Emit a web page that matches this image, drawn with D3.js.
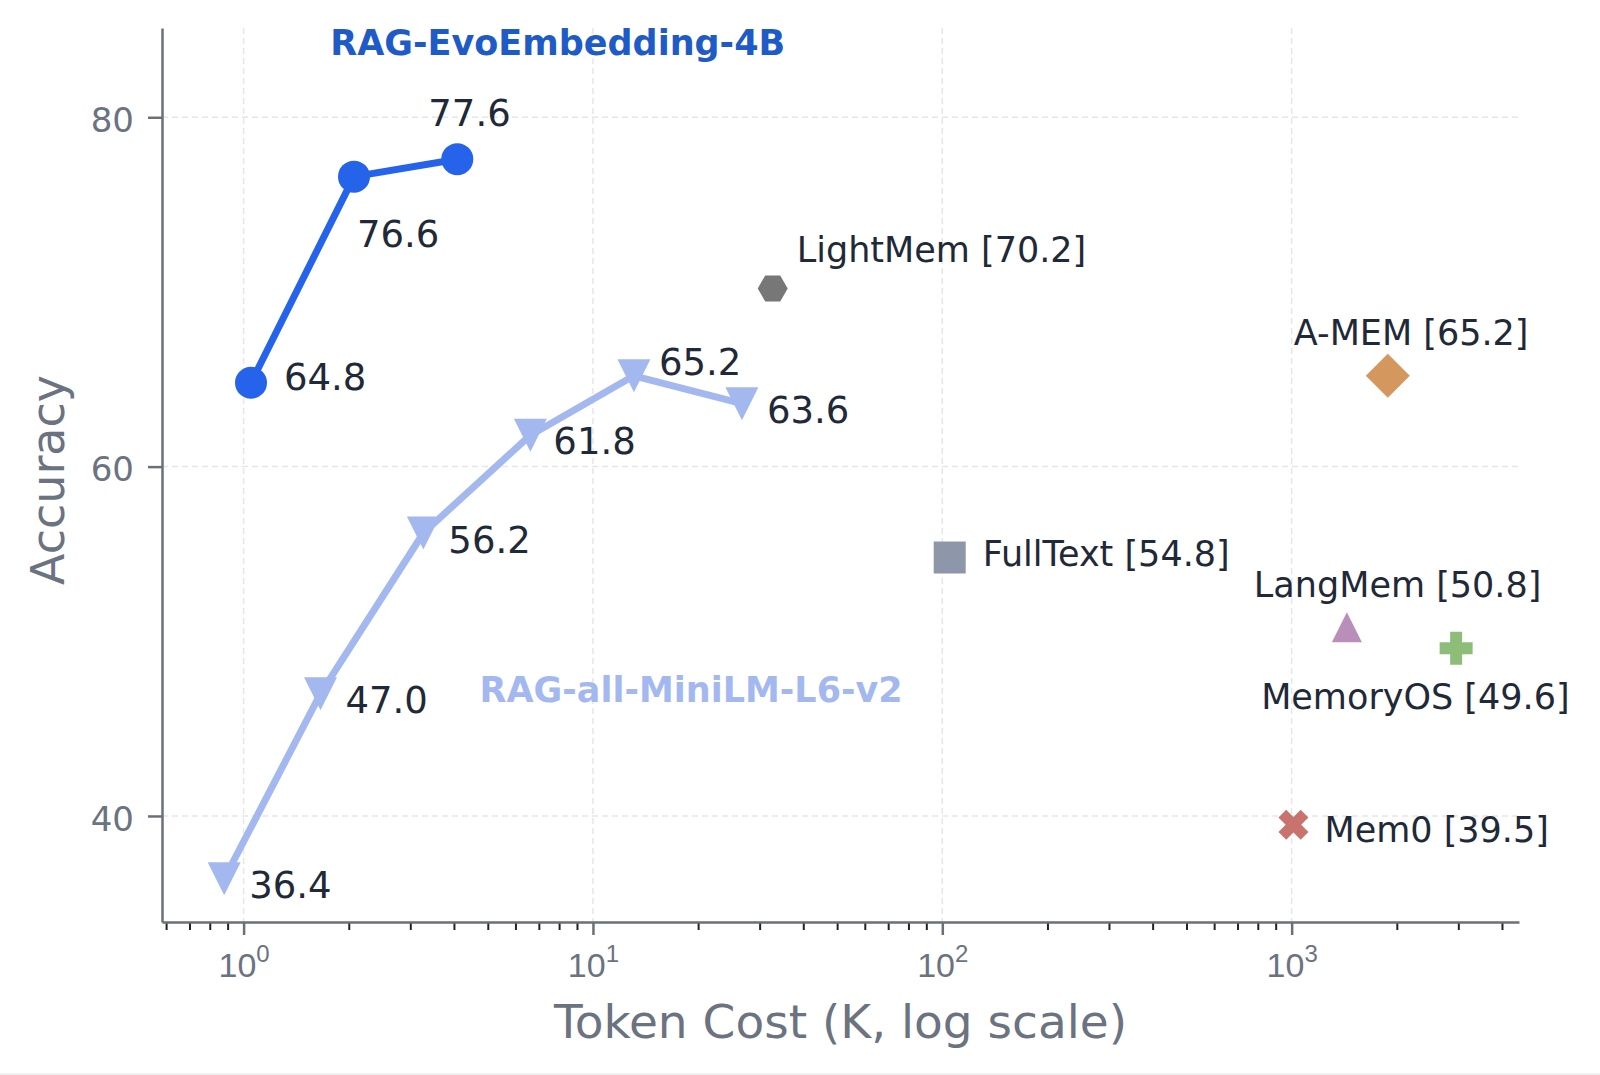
<!DOCTYPE html>
<html>
<head>
<meta charset="utf-8">
<script src="https://cdn.jsdelivr.net/npm/d3@7"></script>
<style>
  html, body { margin: 0; padding: 0; background: #fff; }
  svg { display: block; font-family: "DejaVu Sans", sans-serif; }
</style>
</head>
<body>
<script>
// --- data ---
const evoCost = [1.05, 2.07, 4.09]
const evoAcc = [64.8, 76.6, 77.6]

const miniCost = [0.88, 1.66, 3.27, 6.62, 13.1, 26.7]
const miniAcc = [36.4, 47.0, 56.2, 61.8, 65.2, 63.6]

const baseNames = ['LightMem', 'A-MEM', 'FullText', 'LangMem', 'MemoryOS', 'Mem0']
const baseCost = [32.7, 1885, 105, 1439, 2957, 1012]
const baseAcc = [70.2, 65.2, 54.8, 50.8, 49.6, 39.5]

const xMajor = [1, 10, 100, 1000]
const yTicks = [40, 60, 80]

// --- layout / style ---
const width = 1600
const height = 1075
const margin = { top: 28, right: 81, bottom: 153, left: 162 }
const innerW = width - margin.left - margin.right
const innerH = height - margin.top - margin.bottom

const evoColor = '#2563eb'
const miniColor = '#a4b8f0'
const textDark = '#1f2937'
const axisGray = '#6b7078'

// label offsets in px from their point (dx, dy to baseline start)
const evoOffsets = [[33, 7], [3, 70], [-29, -33]]
const miniOffsets = [[25, 19], [25, 19], [25, 20], [23, 19], [25, -1], [25, 19]]
const baseStyle = [
  { shape: 'hex', color: '#777777', dx: 24, dy: -26 },
  { shape: 'diamond', color: '#d4975e', dx: -94, dy: -31 },
  { shape: 'square', color: '#8d97a9', dx: 33, dy: 9 },
  { shape: 'tri', color: '#b98fb9', dx: -93, dy: -30 },
  { shape: 'plus', color: '#8dbd78', dx: -195, dy: 61 },
  { shape: 'x', color: '#c9736f', dx: 31, dy: 17 }
]

const xScale = d3.scaleLog()
  .domain([0.584, 4475])
  .range([0, innerW])

const yScale = d3.scaleLinear()
  .domain([33.93, 85.11])
  .range([innerH, 0])

const svg = d3.select('body').append('svg')
  .attr('width', width)
  .attr('height', height)

svg.append('rect')
  .attr('x', 0).attr('y', height - 2)
  .attr('width', width).attr('height', 2)
  .attr('fill', '#f0f0f0')

const g = svg.append('g')
  .attr('transform', `translate(${margin.left}, ${margin.top})`)

// grid
g.append('g').selectAll('line')
  .data(xMajor)
  .join('line')
  .attr('x1', d => xScale(d)).attr('x2', d => xScale(d))
  .attr('y1', 0).attr('y2', innerH)
  .attr('stroke', '#e6e6e6')
  .attr('stroke-width', 1.5)
  .attr('stroke-dasharray', '6,4')

g.append('g').selectAll('line')
  .data(yTicks)
  .join('line')
  .attr('x1', 0).attr('x2', innerW)
  .attr('y1', d => yScale(d)).attr('y2', d => yScale(d))
  .attr('stroke', '#e6e6e6')
  .attr('stroke-width', 1.5)
  .attr('stroke-dasharray', '6,4')

// minor x ticks
const minors = []
for (let e = -1; e <= 3; e++) {
  for (let m = 2; m <= 9; m++) {
    const v = m * Math.pow(10, e)
    if (v >= xScale.domain()[0] && v <= xScale.domain()[1]) minors.push(v)
  }
}

g.append('g')
  .attr('transform', `translate(0, ${innerH})`)
  .call(d3.axisBottom(xScale).tickValues(minors).tickSize(8).tickSizeOuter(0).tickFormat(''))
  .call(a => a.select('.domain').remove())
  .call(a => a.selectAll('.tick line').attr('stroke', '#222').attr('stroke-width', 2))

// major x axis
const xAxis = g.append('g')
  .attr('transform', `translate(0, ${innerH})`)
  .call(d3.axisBottom(xScale).tickValues(xMajor).tickSize(13).tickSizeOuter(0).tickFormat(''))

xAxis.select('.domain').attr('stroke', axisGray).attr('stroke-width', 2.5)
xAxis.selectAll('.tick line').attr('stroke', axisGray).attr('stroke-width', 2.5)

xAxis.selectAll('.tick').append('text')
  .attr('y', 55)
  .attr('fill', '#6b7280')
  .attr('text-anchor', 'middle')
  .style('font-size', '34px')
  .each(function (d) {
    const t = d3.select(this)
    t.append('tspan').text('10')
    t.append('tspan')
      .attr('dy', -15)
      .style('font-size', '24px')
      .text(Math.round(Math.log10(d)))
  })

// y axis
const yAxis = g.append('g')
  .call(d3.axisLeft(yScale).tickValues(yTicks).tickSize(14).tickSizeOuter(0).tickPadding(14))

yAxis.select('.domain').attr('stroke', axisGray).attr('stroke-width', 2.5)
yAxis.selectAll('.tick line').attr('stroke', axisGray).attr('stroke-width', 2.5)
yAxis.selectAll('.tick text')
  .attr('fill', '#6b7280')
  .attr('dy', '0.42em')
  .style('font-size', '34px')
  .style('font-family', '"DejaVu Sans", sans-serif')

// axis titles
svg.append('text')
  .attr('x', margin.left + innerW / 2)
  .attr('y', 1038)
  .attr('text-anchor', 'middle')
  .attr('fill', '#6b7280')
  .style('font-size', '47px')
  .text('Token Cost (K, log scale)')

svg.append('text')
  .attr('transform', 'translate(64, 480) rotate(-90)')
  .attr('text-anchor', 'middle')
  .attr('fill', '#6b7280')
  .style('font-size', '46px')
  .text('Accuracy')

// lines
const line = d3.line()
  .x(d => xScale(d[0]))
  .y(d => yScale(d[1]))

const miniPts = miniCost.map((c, i) => [c, miniAcc[i]])
const evoPts = evoCost.map((c, i) => [c, evoAcc[i]])

g.append('path')
  .datum(miniPts)
  .attr('d', line)
  .attr('fill', 'none')
  .attr('stroke', miniColor)
  .attr('stroke-width', 7)
  .attr('stroke-linejoin', 'round')

g.append('g').selectAll('path')
  .data(miniPts)
  .join('path')
  .attr('transform', d => `translate(${xScale(d[0])}, ${yScale(d[1])})`)
  .attr('d', 'M-16.5,-16.5L16.5,-16.5L0,16.5Z')
  .attr('fill', miniColor)

g.append('path')
  .datum(evoPts)
  .attr('d', line)
  .attr('fill', 'none')
  .attr('stroke', evoColor)
  .attr('stroke-width', 7)
  .attr('stroke-linejoin', 'round')

g.append('g').selectAll('circle')
  .data(evoPts)
  .join('circle')
  .attr('cx', d => xScale(d[0]))
  .attr('cy', d => yScale(d[1]))
  .attr('r', 16)
  .attr('fill', evoColor)

// value labels
g.append('g').selectAll('text')
  .data(miniPts)
  .join('text')
  .attr('x', (d, i) => xScale(d[0]) + miniOffsets[i][0])
  .attr('y', (d, i) => yScale(d[1]) + miniOffsets[i][1])
  .attr('fill', textDark)
  .style('font-size', '37px')
  .text(d => d[1].toFixed(1))

g.append('g').selectAll('text')
  .data(evoPts)
  .join('text')
  .attr('x', (d, i) => xScale(d[0]) + evoOffsets[i][0])
  .attr('y', (d, i) => yScale(d[1]) + evoOffsets[i][1])
  .attr('fill', textDark)
  .style('font-size', '37px')
  .text(d => d[1].toFixed(1))

// baseline markers
function plusPath(L, t) {
  const p = [[-t, -L], [t, -L], [t, -t], [L, -t], [L, t], [t, t], [t, L], [-t, L], [-t, t], [-L, t], [-L, -t], [-t, -t]]
  return 'M' + p.map(q => q.join(',')).join('L') + 'Z'
}

function hexPath(r) {
  const p = d3.range(6).map(k => [r * Math.cos(k * Math.PI / 3), r * Math.sin(k * Math.PI / 3)])
  return 'M' + p.map(q => q.join(',')).join('L') + 'Z'
}

const shapes = {
  hex: hexPath(15),
  diamond: 'M0,-22L22,0L0,22L-22,0Z',
  square: 'M-16,-16L16,-16L16,16L-16,16Z',
  tri: 'M0,-15L15,15L-15,15Z',
  plus: plusPath(16.5, 6),
  x: plusPath(15.7, 5.5)
}

const baseData = baseNames.map((n, i) => ({ name: n, cost: baseCost[i], acc: baseAcc[i], style: baseStyle[i] }))

const base = g.append('g').selectAll('g')
  .data(baseData)
  .join('g')
  .attr('transform', d => `translate(${xScale(d.cost)}, ${yScale(d.acc)})`)

base.append('path')
  .attr('d', d => shapes[d.style.shape])
  .attr('transform', d => d.style.shape === 'x' ? 'rotate(45)' : null)
  .attr('fill', d => d.style.color)

base.append('text')
  .attr('x', d => d.style.dx)
  .attr('y', d => d.style.dy)
  .attr('fill', textDark)
  .style('font-size', '35px')
  .text(d => `${d.name} [${d.acc.toFixed(1)}]`)

// series names
g.append('text')
  .attr('x', xScale(7.93))
  .attr('y', yScale(83.57))
  .attr('text-anchor', 'middle')
  .attr('fill', '#1e5bc6')
  .style('font-size', '35px')
  .style('font-weight', 'bold')
  .text('RAG-EvoEmbedding-4B')

g.append('text')
  .attr('x', xScale(19.1))
  .attr('y', yScale(46.53))
  .attr('text-anchor', 'middle')
  .attr('fill', miniColor)
  .style('font-size', '35px')
  .style('font-weight', 'bold')
  .text('RAG-all-MiniLM-L6-v2')
</script>
</body>
</html>
